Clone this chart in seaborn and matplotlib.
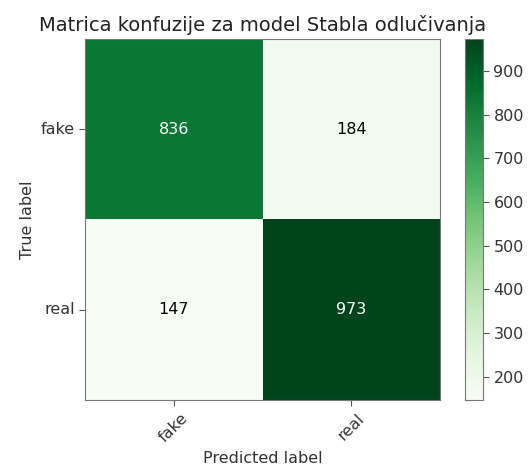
import matplotlib
matplotlib.use("Agg")
import matplotlib.pyplot as plt
import seaborn as sns
import numpy as np

classes = ["fake", "real"]
row_fake = [836, 184]
row_real = [147, 973]

cm = np.array([row_fake, row_real])

fig = plt.figure(figsize=(5.32, 4.68), dpi=100)
ax = fig.add_axes([0.160, 0.145, 0.667, 0.772])
cax = fig.add_axes([0.874, 0.145, 0.034, 0.772])

sns.heatmap(cm, cmap="Greens", ax=ax, cbar_ax=cax, annot=False,
            square=False, linewidths=0)

thresh = cm.max() / 2.
for i in range(cm.shape[0]):
    for j in range(cm.shape[1]):
        ax.text(j + 0.5, i + 0.5, format(cm[i, j], "d"),
                ha="center", va="center", fontsize=11.5,
                color="white" if cm[i, j] > thresh else "black")

ax.set_xticks(np.arange(len(classes)) + 0.5)
ax.set_yticks(np.arange(len(classes)) + 0.5)
ax.set_xticklabels(classes, rotation=45, fontsize=11.5)
ax.set_yticklabels(classes, rotation=0, fontsize=11.5)
ax.tick_params(axis="both", length=4, color="#555555", labelcolor="#333333")
for s in ax.spines.values():
    s.set_visible(True)
    s.set_color("#777777")
ax.set_title("Matrica konfuzije za model Stabla odlučivanja", fontsize=14, color="#222222")
ax.set_xlabel("Predicted label", fontsize=11.5, color="#333333")
ax.set_ylabel("True label", fontsize=11.5, color="#333333")

cax.tick_params(labelsize=11.5, length=4, color="#555555", labelcolor="#333333")
for s in cax.spines.values():
    s.set_visible(True)
    s.set_color("#777777")
cax.set_yticks([200, 300, 400, 500, 600, 700, 800, 900])

fig.savefig("out.png", dpi=100)
